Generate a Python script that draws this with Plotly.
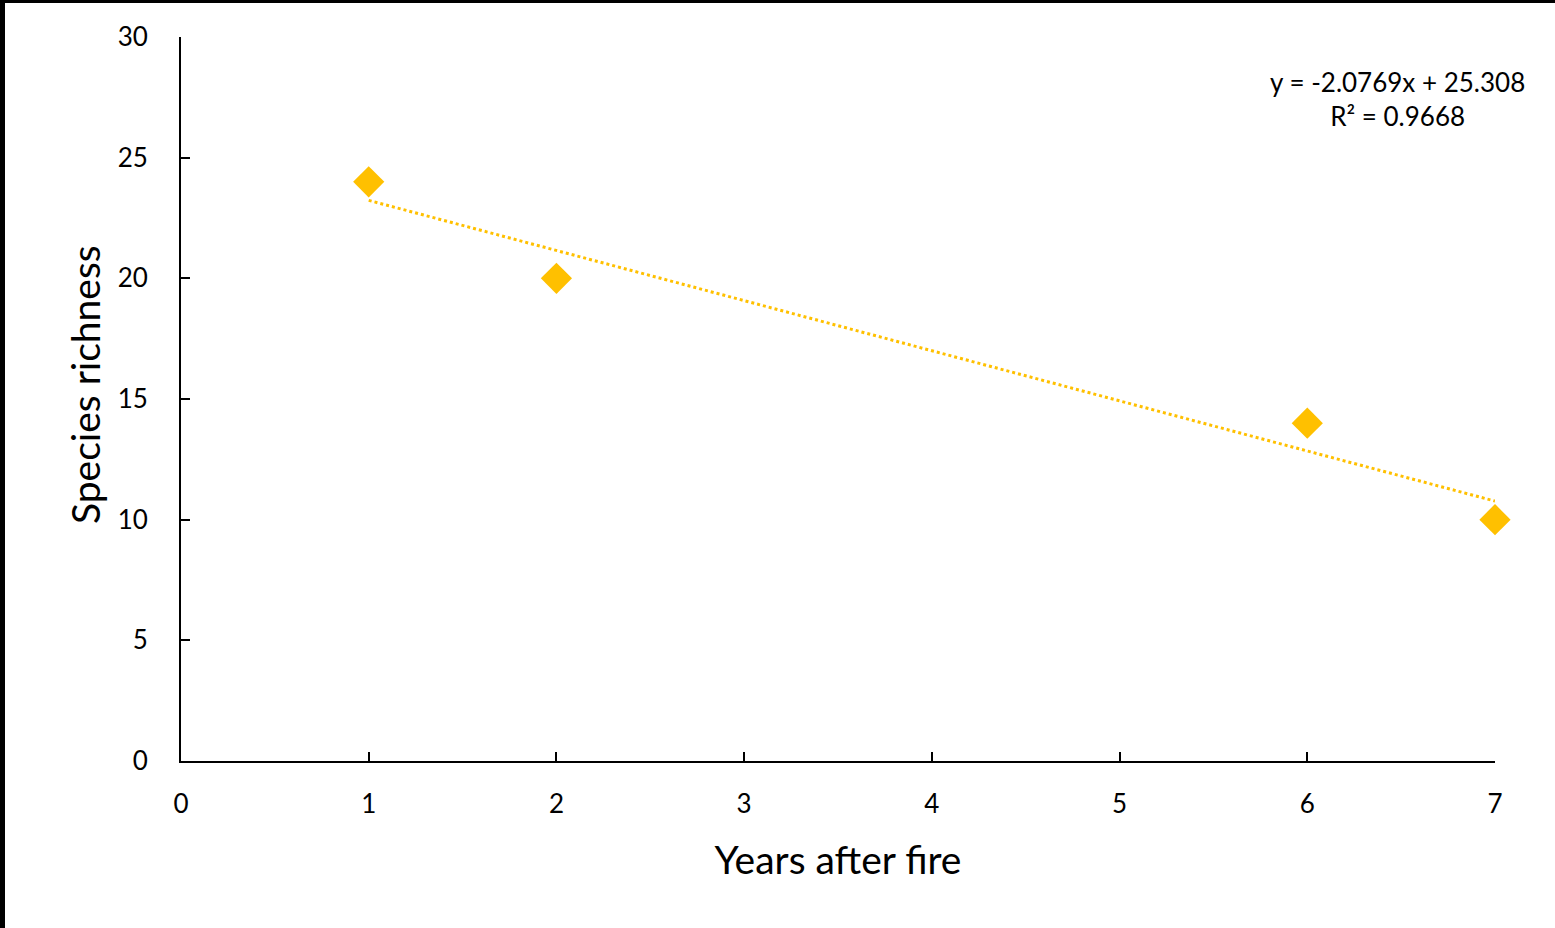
import numpy as np
import plotly.graph_objects as go

years = [1, 2, 6, 7]
richness = [24, 20, 14, 10]
x_ticks = [0, 1, 2, 3, 4, 5, 6, 7]
y_ticks = [0, 5, 10, 15, 20, 25, 30]

slope, intercept = np.polyfit(years, richness, 1)
ss_res = sum((r - (slope * x + intercept)) ** 2 for x, r in zip(years, richness))
ss_tot = sum((r - np.mean(richness)) ** 2 for r in richness)
r2 = 1 - ss_res / ss_tot
fit_x = [min(years), max(years)]
fit_y = [slope * v + intercept for v in fit_x]

COLOR = "#FFC000"
FONT = "Lato"

W, H = 1555, 928
L, R, T, B = 181, 60, 37, 167
pw, ph = W - L - R, H - T - B

fig = go.Figure()
fig.add_trace(go.Scatter(x=fit_x, y=fit_y, mode="lines",
                         line=dict(color=COLOR, width=3, dash="dot"),
                         hoverinfo="skip", showlegend=False, cliponaxis=False))
fig.add_trace(go.Scatter(x=years, y=richness, mode="markers",
                         marker=dict(symbol="diamond", size=24, color=COLOR),
                         showlegend=False, cliponaxis=False))

fig.update_layout(
    width=W, height=H,
    margin=dict(l=L, r=R, t=T, b=B),
    paper_bgcolor="white", plot_bgcolor="white",
    font=dict(family=FONT, color="black"),
    xaxis=dict(range=[0, 7], tickvals=x_ticks, ticks="inside", ticklen=9, tickwidth=2,
               tickcolor="black", showline=True, linewidth=2, linecolor="black",
               showgrid=False, zeroline=False, tickfont=dict(size=26, family=FONT),
               ticklabelstandoff=19,
               title=dict(text="Years after fire", font=dict(size=39, family=FONT), standoff=28)),
    yaxis=dict(range=[0, 30], tickvals=y_ticks, ticks="inside", ticklen=9, tickwidth=2,
               tickcolor="black", showline=True, linewidth=2, linecolor="black",
               showgrid=False, zeroline=False, tickfont=dict(size=26, family=FONT),
               ticklabelstandoff=26),
)

# y-axis title placed as in the reference (slightly above the plot-area centre)
fig.add_annotation(
    x=(85 - L) / pw, y=(H - B - 385) / ph, xref="paper", yref="paper",
    xanchor="center", yanchor="middle", textangle=-90,
    text="Species richness", showarrow=False,
    font=dict(size=39, family=FONT, color="black"),
)

fig.add_annotation(
    x=(1397 - L) / pw, y=(H - B - 99) / ph, xref="paper", yref="paper",
    xanchor="center", yanchor="middle",
    text=f"y = {slope:.4f}x + {intercept:.3f}<br>R² = {r2:.4f}",
    showarrow=False, align="center", font=dict(size=26, family=FONT, color="black"),
)

# black frame edges seen at top and left of the image
fig.add_shape(type="rect", xref="paper", yref="paper",
              x0=-L / pw, x1=(5 - L) / pw, y0=-B / ph, y1=(H - B) / ph,
              fillcolor="black", line=dict(width=0), layer="above")
fig.add_shape(type="rect", xref="paper", yref="paper",
              x0=-L / pw, x1=(W - L) / pw, y0=(H - B - 3) / ph, y1=(H - B) / ph,
              fillcolor="black", line=dict(width=0), layer="above")

fig.write_html("out.html", config={"displayModeBar": False},
               post_script="document.body.style.margin='0';document.body.style.overflow='hidden';")
